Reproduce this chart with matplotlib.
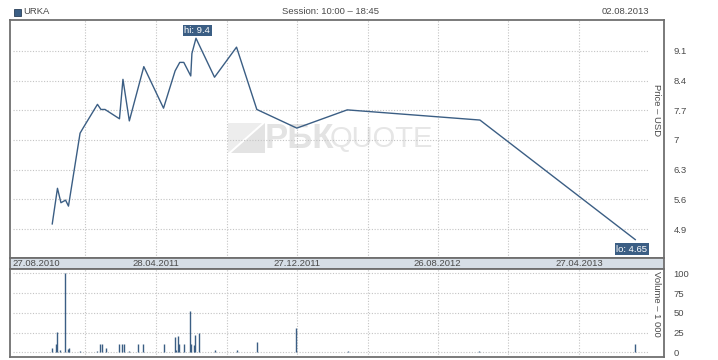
import matplotlib
matplotlib.use("Agg")
import matplotlib.pyplot as plt
import matplotlib.dates as mdates
from matplotlib.patches import Polygon
from datetime import datetime

plt.rcParams['font.family'] = ['Liberation Sans', 'DejaVu Sans']

# ---------------- data ----------------
ticker = "URKA"
session = "Session: 10:00 \u2013 18:45"
last_date = "02.08.2013"

price_dates = ["2010-10-31", "2010-11-09", "2010-11-15", "2010-11-23", "2010-11-28",
               "2010-12-18", "2010-12-24", "2011-01-17", "2011-01-23", "2011-01-30",
               "2011-02-24", "2011-03-02", "2011-03-13", "2011-04-07", "2011-05-11",
               "2011-05-31", "2011-06-08", "2011-06-15", "2011-06-27", "2011-06-29",
               "2011-07-06", "2011-08-07", "2011-09-14", "2011-10-19", "2011-12-27",
               "2012-03-23", "2012-11-07", "2013-08-02"]
price_values = [5.02, 5.86, 5.52, 5.58, 5.44,
                7.16, 7.30, 7.84, 7.72, 7.72,
                7.50, 8.43, 7.45, 8.73, 7.75,
                8.63, 8.83, 8.83, 8.51, 9.04,
                9.40, 8.48, 9.19, 7.72, 7.28,
                7.71, 7.47, 4.65]

vol_dates = ["2010-10-31", "2010-11-07", "2010-11-09", "2010-11-14", "2010-11-22",
             "2010-11-28", "2010-11-29", "2010-12-18", "2011-01-17", "2011-01-22",
             "2011-01-25", "2011-01-31", "2011-02-24", "2011-03-01", "2011-03-03",
             "2011-03-13", "2011-03-28", "2011-04-06", "2011-05-11", "2011-05-31",
             "2011-06-02", "2011-06-05", "2011-06-07", "2011-06-16", "2011-06-26",
             "2011-06-28", "2011-07-03", "2011-07-05", "2011-07-12", "2011-08-07",
             "2011-09-14", "2011-10-19", "2011-12-26", "2012-03-25", "2012-11-06",
             "2013-08-01"]
vol_values = [5.5, 10.5, 25.7, 3, 100,
              4, 5.5, 2, 2, 10.5,
              10.5, 5.5, 10.5, 10.5, 10.5,
              2, 10.5, 10.5, 10.5, 19.4,
              3, 20.6, 10.5, 10.5, 52,
              10.5, 9, 22, 24.5, 3,
              3, 13, 30.7, 2, 2,
              10.5]

price_ticks = [4.9, 5.6, 6.3, 7, 7.7, 8.4, 9.1]
price_tick_labels = ["4.9", "5.6", "6.3", "7", "7.7", "8.4", "9.1"]
vol_ticks = [0, 25, 50, 75, 100]
date_label_dates = ["2010-08-27", "2011-04-28", "2011-12-27", "2012-08-26", "2013-04-27"]
date_label_texts = ["27.08.2010", "28.04.2011", "27.12.2011", "26.08.2012", "27.04.2013"]
grid_dates = ["2010-12-27", "2011-04-28", "2011-08-28", "2011-12-27",
              "2012-04-27", "2012-08-26", "2012-12-26", "2013-04-27"]

# ---------------- style ----------------
W, H = 718, 360
line_c = "#3b5e84"
frame_c = "#6f6f6f"
grid_c = "#c4c4c4"
text_c = "#4a4a4a"
strip_c = "#d6dee6"
fs = 6.8

def d(s):
    return mdates.date2num(datetime.strptime(s, "%Y-%m-%d"))

pd_ = [d(s) for s in price_dates]
vd_ = [d(s) for s in vol_dates]
x0 = d("2010-08-27")
xlim = (x0 - 7.9, x0 + 1120.6)

fig = plt.figure(figsize=(W / 100, H / 100), dpi=100)
fig.patch.set_facecolor("white")

def ax_rect(l, t, r, b):
    return [l / W, 1 - b / H, (r - l) / W, (b - t) / H]

ax = fig.add_axes(ax_rect(10, 20, 664, 258))
axs = fig.add_axes(ax_rect(10, 258, 664, 269))
axv = fig.add_axes(ax_rect(10, 269, 664, 357))

for a in (ax, axs, axv):
    a.set_xlim(*xlim)
    for sp in a.spines.values():
        sp.set_color(frame_c)
        sp.set_linewidth(1.3)
    a.tick_params(axis='x', length=0, labelbottom=False)

# price panel
ax.set_ylim(4.216, 9.83)
ax.plot(pd_, price_values, color=line_c, lw=1.0, zorder=3)
ax.yaxis.tick_right()
ax.set_yticks(price_ticks)
ax.set_yticklabels(price_tick_labels)
ax.tick_params(axis='y', length=0, pad=7, labelsize=fs, labelcolor=text_c)
for v in price_ticks:
    ax.axhline(v, xmin=3 / 654, xmax=639 / 654, color=grid_c, lw=0.8, ls=(0, (1, 1.5)), zorder=1)
gd = [d(s) for s in grid_dates]
for g in gd:
    ax.axvline(g, color=grid_c, lw=0.8, ls=(0, (1, 1.5)), zorder=1)
    axv.axvline(g, color=grid_c, lw=0.8, ls=(0, (1, 1.5)), zorder=1)
ax.text(0.989, 0.62, "Price \u2013 USD", transform=ax.transAxes, rotation=270,
        ha='center', va='center', fontsize=fs, color=text_c)

# hi / lo labels
i_hi = price_values.index(max(price_values))
i_lo = price_values.index(min(price_values))
box = dict(boxstyle="square,pad=0.15", fc=line_c, ec="none")
ax.annotate(f"hi: {price_values[i_hi]:g}", (pd_[i_hi], price_values[i_hi]),
            xytext=(1, 5.6), textcoords="offset points", ha='center', va='center',
            fontsize=fs, color="white", bbox=box, zorder=5)
ax.annotate(f"lo: {price_values[i_lo]:g}", (pd_[i_lo], price_values[i_lo]),
            xytext=(-2.5, -6.8), textcoords="offset points", ha='center', va='center',
            fontsize=fs, color="white", bbox=box, zorder=5)

# watermark
def fp(x, y):
    return (x / W, 1 - y / H)
tri1 = Polygon([fp(228, 153), fp(228, 123), fp(262, 123)], closed=True,
               transform=fig.transFigure, fc="#ededed", ec="none", zorder=0)
tri2 = Polygon([fp(231, 153), fp(265, 123), fp(265, 153)], closed=True,
               transform=fig.transFigure, fc="#e3e3e3", ec="none", zorder=0)
ax.add_patch(tri1)
ax.add_patch(tri2)
ax.text(*fp(265, 138.5), "\u0420\u0411\u041a", transform=fig.transFigure, ha='left', va='center',
        fontsize=25, fontweight='bold', color="#e3e3e3", zorder=0)
ax.text(*fp(433, 138.5), "QUOTE", transform=fig.transFigure, ha='right', va='center',
        fontsize=21, color="#e6e6e6", zorder=0)

# date strip
axs.set_facecolor(strip_c)
axs.set_yticks([])
axs.set_ylim(0, 1)
for i, (ds, lab) in enumerate(zip(date_label_dates, date_label_texts)):
    if i == 0:
        axs.annotate(lab, (d(ds), 0.5), xytext=(-1.2, 0), textcoords="offset points",
                     ha='left', va='center', fontsize=fs, color=text_c)
    else:
        axs.text(d(ds), 0.5, lab, ha='center', va='center', fontsize=fs, color=text_c)

# volume panel
axv.set_ylim(-5.95, 105.4)
axv.vlines(vd_, 0, vol_values, color=line_c, lw=1.0, zorder=3)
axv.yaxis.tick_right()
axv.set_yticks(vol_ticks)
axv.tick_params(axis='y', length=0, pad=7, labelsize=fs, labelcolor=text_c)
for v in vol_ticks:
    axv.axhline(v, xmin=3 / 654, xmax=639 / 654, color=grid_c, lw=0.8, ls=(0, (1, 1.5)), zorder=1)
axv.text(0.989, 0.6, "Volume \u2013 1 000", transform=axv.transAxes, rotation=270,
         ha='center', va='center', fontsize=fs, color=text_c)

# header
sq = Polygon([fp(14, 8.5), fp(21, 8.5), fp(21, 15.5), fp(14, 15.5)], closed=True,
             transform=fig.transFigure, fc=line_c, ec="#2a3f58", lw=0.6)
fig.patches.append(sq)
fig.text(*fp(23, 12), ticker, ha='left', va='center', fontsize=fs, color=text_c)
fig.text(*fp(331, 12), session, ha='center', va='center', fontsize=fs, color=text_c)
fig.text(*fp(649, 12), last_date, ha='right', va='center', fontsize=fs, color=text_c)

fig.savefig("out.png", dpi=100)
